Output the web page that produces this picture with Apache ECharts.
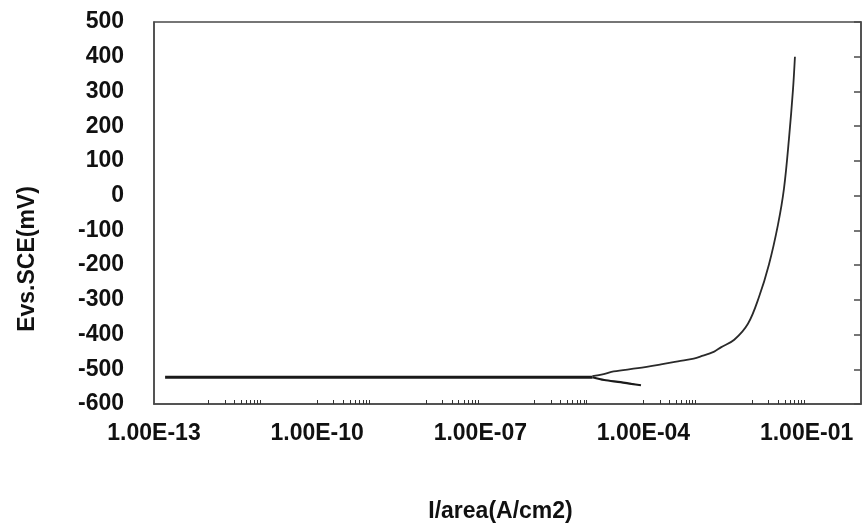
<!DOCTYPE html>
<html>
<head>
<meta charset="utf-8">
<script src="https://cdn.jsdelivr.net/npm/echarts@6/dist/echarts.min.js"></script>
<style>
html,body{margin:0;padding:0;background:#fff;}
#chart{width:863px;height:528px;}
</style>
</head>
<body>
<div id="chart"></div>
<script>
// Current density (A/cm2) and potential (mV vs SCE)
var flatI = [1.6e-13, 1.15e-5];
var flatE = [-523, -523];

var cathodicI = [1.15e-5, 1.9e-5, 3.8e-5, 6.0e-5, 9.0e-5];
var cathodicE = [-523, -531, -537, -542, -546];

var anodicI = [1.15e-5, 1.86e-5, 2.84e-5, 7.9e-5, 2.1e-4, 4.3e-4, 8.4e-4, 1.13e-3, 2.0e-3, 2.65e-3, 4.67e-3, 8.34e-3, 1.33e-2, 2.03e-2, 2.97e-2, 3.84e-2, 4.74e-2, 5.62e-2, 6.1e-2];
var anodicE = [-520, -514, -506, -497, -486, -477, -469, -463, -449, -437, -415, -369, -292, -198, -84, 21, 164, 306, 400];

var xLabelValues = [1e-13, 1e-10, 1e-7, 1e-4, 1e-1];
var minorTickDecades = [-12, -10, -8, -6, -4, -2];
var yTicks = [-600, -500, -400, -300, -200, -100, 0, 100, 200, 300, 400, 500];

function zip(a, b) { return a.map(function (v, i) { return [v, b[i]]; }); }

var minorTicks = [];
minorTickDecades.forEach(function (d) {
  for (var k = 1; k <= 9; k++) minorTicks.push(k * Math.pow(10, d));
});

function fmtE(v) {
  var e = Math.round(Math.log10(v));
  var s = e < 0 ? '-' : '+';
  var a = Math.abs(e);
  return '1.00E' + s + (a < 10 ? '0' : '') + a;
}

var FONT = 'Liberation Sans';
var AXC = '#4a4a4a';

var chart = echarts.init(document.getElementById('chart'), null, {renderer: 'canvas'});
chart.setOption({
  animation: false,
  backgroundColor: '#fff',
  grid: {left: 154, right: 2, top: 22, bottom: 120, show: true, borderColor: AXC, borderWidth: 1.5, backgroundColor: 'transparent'},
  xAxis: [{
    type: 'log', logBase: 10, min: 1e-13, max: 1,
    position: 'bottom',
    name: 'I/area(A/cm2)', nameLocation: 'middle', nameGap: 96,
    nameTextStyle: {fontFamily: FONT, fontWeight: 'bold', fontSize: 23, color: '#111', padding: [0, 14, 0, 0]},
    axisLine: {show: true, onZero: false, lineStyle: {color: AXC, width: 1.5}},
    axisTick: {show: true, inside: true, length: 4, customValues: minorTicks, lineStyle: {color: '#333', width: 1}},
    axisLabel: {customValues: xLabelValues, formatter: fmtE, fontFamily: FONT, fontWeight: 'bold', fontSize: 23, color: '#111', margin: 18},
    splitLine: {show: false}
  }],
  yAxis: [{
    type: 'value', min: -600, max: 500, interval: 100,
    name: 'Evs.SCE(mV)', nameLocation: 'middle', nameGap: 115, nameRotate: 90,
    nameTextStyle: {fontFamily: FONT, fontWeight: 'bold', fontSize: 23, color: '#111', padding: [0, 92, 0, 0]},
    axisLine: {show: true, onZero: false, lineStyle: {color: AXC, width: 1.5}},
    axisTick: {show: false},
    axisLabel: {customValues: yTicks, fontFamily: FONT, fontWeight: 'bold', fontSize: 23, color: '#111', margin: 30},
    splitLine: {show: false}
  }, {
    type: 'value', min: -600, max: 500, interval: 100,
    position: 'right',
    axisLine: {show: true, onZero: false, lineStyle: {color: AXC, width: 1.5}},
    axisTick: {show: true, inside: true, length: 7, lineStyle: {color: AXC, width: 1.5}},
    axisLabel: {show: false},
    splitLine: {show: false}
  }],
  series: [{
    type: 'line', data: zip(flatI, flatE), showSymbol: false,
    lineStyle: {color: '#1a1a1a', width: 3}
  }, {
    type: 'line', data: zip(cathodicI, cathodicE), showSymbol: false, smooth: 0.3,
    lineStyle: {color: '#1a1a1a', width: 2.2}
  }, {
    type: 'line', data: zip(anodicI, anodicE), showSymbol: false, smooth: 0.35,
    lineStyle: {color: '#2a2a2a', width: 1.8}
  }]
});
</script>
</body>
</html>
